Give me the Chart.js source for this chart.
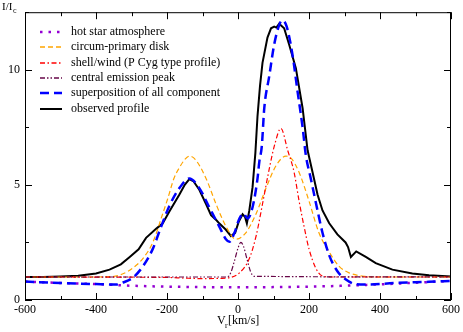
<!DOCTYPE html>
<html>
<head>
<meta charset="utf-8">
<script src="https://cdn.jsdelivr.net/npm/chart.js@4.4.1/dist/chart.umd.min.js"></script>
<style>
  html, body { margin: 0; padding: 0; background: #fff; }
  #wrap { width: 463px; height: 332px; }
</style>
</head>
<body>
<div id="wrap"><canvas id="profile"></canvas></div>
<script>
// axis ticks
const xTicks = [-600, -400, -200, 0, 200, 400, 600];
const yTicks = [0, 5, 10];

// hot star atmosphere
const hotV = [-600, -500, -400, -300, -200, -100, 0, 100, 200, 300, 400, 500, 600];
const hotI = [0.80, 0.74, 0.69, 0.62, 0.58, 0.56, 0.55, 0.56, 0.58, 0.62, 0.68, 0.75, 0.83];

// circum-primary disk
const diskV = [-600, -400, -352, -324, -296, -268, -240, -212, -198, -180, -165, -150, -137, -120, -90, -62, -34, -6, 22, 51, 79, 107, 135, 150, 172, 200, 228, 257, 285, 313, 350, 400, 600];
const diskI = [1.0, 1.0, 1.02, 1.14, 1.39, 1.8, 2.5, 3.75, 4.4, 5.3, 5.75, 6.1, 6.25, 6.1, 5.28, 4.17, 3.2, 2.64, 2.92, 3.75, 4.86, 5.83, 6.25, 6.15, 5.55, 4.3, 2.92, 2.08, 1.46, 1.18, 1.04, 1.0, 1.0];

// shell/wind (P Cyg)
const shellV = [-600, -200, -150, -100, -50, -24, 4, 32, 51, 69, 88, 102, 121, 140, 158, 172, 186, 200, 219, 238, 260, 600];
const shellI = [1.0, 0.98, 0.95, 0.93, 0.94, 0.97, 1.18, 1.8, 2.78, 4.17, 5.69, 6.67, 7.45, 6.5, 5.55, 4.3, 3.2, 2.22, 1.39, 1.04, 1.0, 1.0];

// central emission peak
const centV = [-600, -30, -20, -10, 0, 8, 15, 25, 35, 45, 600];
const centI = [1.0, 1.0, 1.2, 1.7, 2.25, 2.5, 2.35, 1.8, 1.25, 1.03, 1.0];

// superposition of all components
const fitV = [-600, -500, -400, -343, -324, -296, -268, -240, -221, -193, -165, -137, -109, -81, -53, -34, -24, -10, 4, 16, 27, 41, 55, 60, 67, 74, 88, 102, 116, 125, 137, 153, 168, 182, 191, 205, 224, 238, 257, 280, 303, 331, 360, 444, 538, 600];
const fitI = [0.80, 0.74, 0.69, 0.67, 0.76, 0.97, 1.46, 2.22, 3.0, 4.1, 4.86, 5.28, 4.86, 4.03, 3.2, 2.64, 2.53, 2.92, 3.54, 3.75, 3.54, 4.03, 5.28, 6.0, 6.67, 8.33, 9.72, 11.1, 11.94, 12.15, 11.88, 10.7, 9.03, 7.5, 6.3, 5.28, 3.89, 2.92, 1.94, 1.25, 0.9, 0.69, 0.67, 0.74, 0.79, 0.83];

// observed profile
const obsV = [-600, -550, -500, -450, -400, -362, -330, -305, -280, -259, -230, -212, -193, -165, -150, -137, -125, -109, -90, -76, -60, -53, -34, -20, -8, 2, 13, 20, 25, 32, 41, 49, 55, 62, 69, 83, 93, 102, 108, 116, 130, 144, 163, 182, 196, 210, 224, 238, 257, 280, 303, 310, 318, 333, 360, 388, 435, 491, 538, 600];
const obsI = [1.0, 1.0, 1.02, 1.05, 1.15, 1.32, 1.55, 1.87, 2.2, 2.7, 3.1, 3.33, 3.85, 4.58, 5.0, 5.25, 5.15, 4.79, 4.17, 3.68, 3.45, 3.33, 3.05, 2.78, 2.92, 3.4, 3.72, 3.6, 3.33, 3.9, 4.9, 6.4, 8.0, 9.3, 10.3, 11.4, 11.8, 11.87, 11.83, 12.0, 11.8, 11.1, 10.07, 8.33, 6.5, 5.55, 4.58, 3.89, 3.33, 2.85, 2.5, 2.3, 1.87, 2.11, 1.87, 1.6, 1.32, 1.15, 1.07, 1.02];

const names = [
  'hot star atmosphere',
  'circum-primary disk',
  'shell/wind (P Cyg type profile)',
  'central emission peak',
  'superposition of all component',
  'observed profile'
];

function pts(xs, ys) {
  return xs.map((x, i) => ({ x: x, y: ys[i] }));
}

const serif = "'Liberation Serif', 'DejaVu Serif', serif";

const framePlugin = {
  id: 'frame',
  afterDatasetsDraw(chart) {
    const { ctx, chartArea: a, scales: { x, y } } = chart;
    ctx.save();
    ctx.strokeStyle = '#000';
    ctx.lineWidth = 1;
    ctx.setLineDash([]);
    ctx.strokeRect(a.left + 0.5, a.top + 0.5, a.right - a.left - 1, a.bottom - a.top - 1);
    ctx.beginPath();
    for (let v = -600; v <= 600; v += 100) {
      const px = Math.round(x.getPixelForValue(v)) + 0.5;
      const len = v % 200 === 0 ? 7 : 4;
      ctx.moveTo(px, a.bottom); ctx.lineTo(px, a.bottom - len);
      ctx.moveTo(px, a.top); ctx.lineTo(px, a.top + len);
    }
    for (let v = 0; v <= 12.5; v += 2.5) {
      const py = Math.round(y.getPixelForValue(v)) + 0.5;
      const len = v % 5 === 0 ? 7 : 4;
      ctx.moveTo(a.left, py); ctx.lineTo(a.left + len, py);
      ctx.moveTo(a.right, py); ctx.lineTo(a.right - len, py);
    }
    ctx.stroke();

    // axis titles
    ctx.fillStyle = '#000';
    ctx.textBaseline = 'alphabetic';
    ctx.font = '11px ' + serif;
    ctx.fillText('I/I', 2, 10);
    ctx.font = '8px ' + serif;
    ctx.fillText('c', 13, 13);
    ctx.font = '12px ' + serif;
    ctx.fillText('V', 217, 324);
    ctx.font = '8px ' + serif;
    ctx.fillText('r', 225, 328);
    ctx.font = '12px ' + serif;
    ctx.fillText('[km/s]', 228, 324);

    // legend
    chart.data.datasets.forEach((d, i) => {
      const ly = 32 + i * 15.3;
      ctx.beginPath();
      ctx.strokeStyle = d.borderColor;
      ctx.lineWidth = Math.max(d.borderWidth, 1.5);
      ctx.setLineDash(d.borderDash || []);
      ctx.moveTo(40, Math.round(ly));
      ctx.lineTo(62, Math.round(ly));
      ctx.stroke();
      ctx.setLineDash([]);
      ctx.font = '12px ' + serif;
      ctx.textBaseline = 'middle';
      ctx.fillText(d.label, 71, ly);
    });
    ctx.restore();
  }
};

const smooth = { cubicInterpolationMode: 'monotone', pointRadius: 0, fill: false };

new Chart(document.getElementById('profile'), {
  type: 'line',
  data: {
    datasets: [
      Object.assign({ label: names[0], data: pts(hotV, hotI), borderColor: '#9400d3', borderWidth: 2.5, borderDash: [2.5, 6], order: 4 }, smooth),
      Object.assign({ label: names[1], data: pts(diskV, diskI), borderColor: '#ffa500', borderWidth: 1.2, borderDash: [5, 3], order: 3 }, smooth),
      Object.assign({ label: names[2], data: pts(shellV, shellI), borderColor: '#ff0000', borderWidth: 1.2, borderDash: [5, 2.5, 1.5, 2.5], order: 2 }, smooth),
      Object.assign({ label: names[3], data: pts(centV, centI), borderColor: '#670748', borderWidth: 1.2, borderDash: [5, 2, 1.5, 2, 1.5, 2], order: 1 }, smooth),
      Object.assign({ label: names[4], data: pts(fitV, fitI), borderColor: '#0000ff', borderWidth: 2.5, borderDash: [9, 5], order: 0 }, smooth),
      { label: names[5], data: pts(obsV, obsI), borderColor: '#000000', borderWidth: 2, tension: 0, pointRadius: 0, fill: false, order: 5 }
    ]
  },
  options: {
    responsive: true,
    maintainAspectRatio: false,
    animation: false,
    layout: { padding: { top: 1, right: 11, left: 0, bottom: 0 } },
    plugins: { legend: { display: false }, tooltip: { enabled: false } },
    scales: {
      x: {
        type: 'linear', min: -600, max: 600,
        grid: { display: false, drawTicks: false },
        border: { display: false },
        afterBuildTicks: s => { s.ticks = xTicks.map(v => ({ value: v })); },
        afterFit: s => { s.height = 32; },
        ticks: { font: { family: serif, size: 12 }, color: '#000', padding: 3, maxRotation: 0 }
      },
      y: {
        type: 'linear', min: 0, max: 12.5,
        grid: { display: false, drawTicks: false },
        border: { display: false },
        afterBuildTicks: s => { s.ticks = yTicks.map(v => ({ value: v })); },
        afterFit: s => { s.width = 25; },
        ticks: { font: { family: serif, size: 12 }, color: '#000', padding: 5 }
      }
    }
  },
  plugins: [framePlugin]
});
</script>
</body>
</html>
